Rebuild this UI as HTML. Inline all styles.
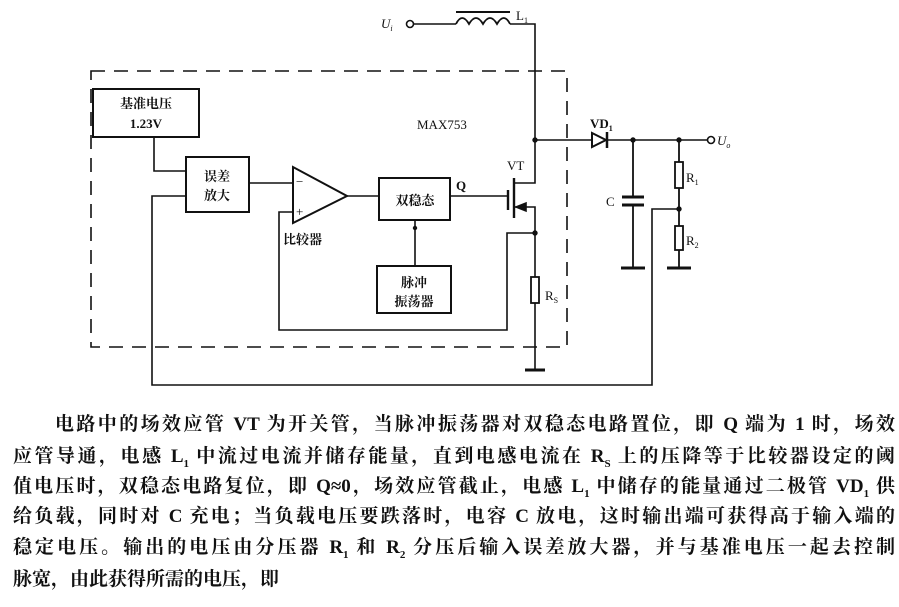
<!DOCTYPE html>
<html><head><meta charset="utf-8"><style>
body{margin:0;width:899px;height:607px;background:#fff;overflow:hidden;position:relative}
svg{position:absolute;left:0;top:0}
.t{position:absolute;left:13px;width:882px;font-family:"Liberation Serif","Noto Serif CJK SC",serif;font-size:19px;font-weight:bold;color:#111;text-align:justify;text-align-last:justify;white-space:nowrap;line-height:22px}
sub{font-size:11px;line-height:0}
</style></head><body>
<svg width="899" height="400" viewBox="0 0 899 400" font-family="Liberation Serif, Noto Serif CJK SC, serif" fill="none" stroke="#111" stroke-width="1.6">
<rect x="91" y="71" width="476" height="276" stroke-dasharray="14,9"/>
<rect x="93" y="89" width="106" height="48" stroke-width="2"/>
<rect x="186" y="157" width="63" height="55" stroke-width="2"/>
<rect x="379" y="178" width="71" height="42" stroke-width="2"/>
<rect x="377" y="266" width="74" height="47" stroke-width="2"/>
<polygon points="293,167 293,223 347,196" stroke-width="2"/>
<path d="M154,137V171H186M249,183H293M347,196H379M415,220V266M450,196H508"/>
<path d="M186,196H152V385H652V209H679"/>
<path d="M293,212H279V330H507V233H535"/>
<path d="M413,24H456M510,24H535V183H514M514,207H535V370M535,140H707"/>
<path d="M456,24q6,-12 13,0q7,-12 14,0q7,-12 14,0q7,-12 13,0" stroke-width="1.8"/>
<line x1="456" y1="12" x2="510" y2="12" stroke-width="2"/>
<line x1="508" y1="190" x2="508" y2="210" stroke-width="2.4"/>
<line x1="514" y1="178" x2="514" y2="218" stroke-width="2.4"/>
<polygon points="516,207 526,203 526,211" fill="#111"/>
<circle cx="410" cy="24" r="3.5" fill="#fff"/>
<circle cx="711" cy="140" r="3.5" fill="#fff"/>
<rect x="531" y="277" width="8" height="26" fill="#fff" stroke-width="1.8"/>
<path d="M525,370H545M633,140V197M633,205V268M621,268H645M679,140V162M679,188V226M679,250V268M667,268H691" stroke-width="1.8"/>
<path d="M525,370H545M621,268H645M667,268H691" stroke-width="3"/>
<path d="M622,197H644M622,205H644" stroke-width="3"/>
<rect x="675" y="162" width="8" height="26" fill="#fff" stroke-width="1.8"/>
<rect x="675" y="226" width="8" height="24" fill="#fff" stroke-width="1.8"/>
<polygon points="592,133 592,147 606,140" fill="#fff" stroke-width="2"/>
<line x1="607" y1="132" x2="607" y2="148" stroke-width="2.5"/>
<g fill="#111" stroke="#111" stroke-width="1.4"><circle cx="535" cy="140" r="2"/><circle cx="535" cy="233" r="2"/><circle cx="633" cy="140" r="2"/><circle cx="679" cy="140" r="2"/><circle cx="679" cy="209" r="2"/><circle cx="415" cy="228" r="1.5"/></g>
<g fill="#111" stroke="none" font-size="13" font-weight="bold">
<text x="146" y="108" text-anchor="middle">基准电压</text>
<text x="146" y="128" text-anchor="middle">1.23V</text>
<text x="217" y="181" text-anchor="middle">误差</text>
<text x="217" y="200" text-anchor="middle">放大</text>
<text x="415" y="205" text-anchor="middle">双稳态</text>
<text x="414" y="287" text-anchor="middle">脉冲</text>
<text x="414" y="306" text-anchor="middle">振荡器</text>
<text x="283" y="244">比较器</text>
<text x="417" y="129" font-weight="normal">MAX753</text>
<text x="456" y="190">Q</text>
<text x="507" y="170" font-weight="normal">VT</text>
<text x="590" y="128">VD<tspan font-size="8" dy="3">1</tspan></text>
<text x="606" y="206" font-weight="normal">C</text>
<text x="686" y="182" font-weight="normal">R<tspan font-size="8" dy="3">1</tspan></text>
<text x="686" y="245" font-weight="normal">R<tspan font-size="8" dy="3">2</tspan></text>
<text x="545" y="300" font-weight="normal">R<tspan font-size="8" dy="3">S</tspan></text>
<text x="516" y="20" font-weight="normal">L<tspan font-size="8" dy="3">1</tspan></text>
<text x="381" y="28" font-style="italic" font-weight="normal">U<tspan font-size="8" dy="3">i</tspan></text>
<text x="717" y="145" font-style="italic" font-weight="normal">U<tspan font-size="8" dy="3">o</tspan></text>
<text x="296" y="186" font-weight="normal">−</text>
<text x="296" y="216" font-weight="normal">+</text>
</g>
</svg>
<div class="t" style="top:414px;left:55px;width:840px">电路中的场效应管 VT 为开关管，当脉冲振荡器对双稳态电路置位，即 Q 端为 1 时，场效</div>
<div class="t" style="top:446px">应管导通，电感 L<sub>1</sub> 中流过电流并储存能量，直到电感电流在 R<sub>S</sub> 上的压降等于比较器设定的阈</div>
<div class="t" style="top:476px">值电压时，双稳态电路复位，即 Q≈0，场效应管截止，电感 L<sub>1</sub> 中储存的能量通过二极管 VD<sub>1</sub> 供</div>
<div class="t" style="top:506px">给负载，同时对 C 充电；当负载电压要跌落时，电容 C 放电，这时输出端可获得高于输入端的</div>
<div class="t" style="top:537px">稳定电压。输出的电压由分压器 R<sub>1</sub> 和 R<sub>2</sub> 分压后输入误差放大器，并与基准电压一起去控制</div>
<div class="t" style="top:569px;text-align-last:left">脉宽，由此获得所需的电压，即</div>
</body></html>
